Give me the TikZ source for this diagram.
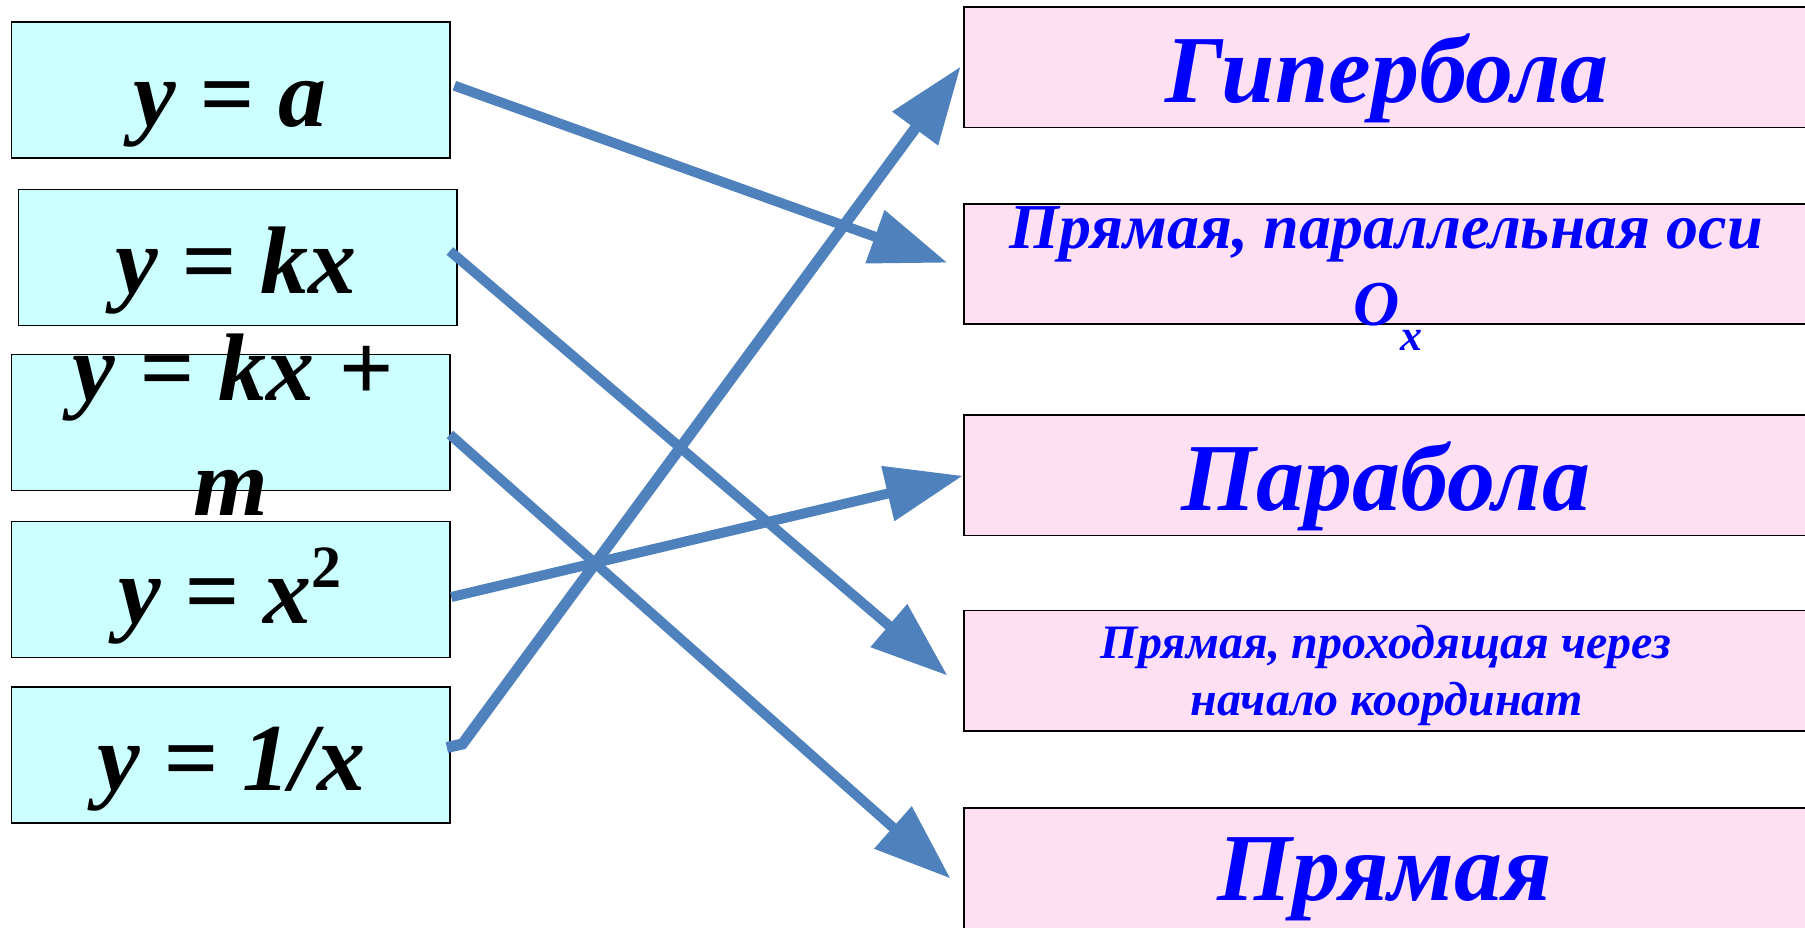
\documentclass[tikz,border=0pt]{standalone}
\usepackage{fontspec}
\setmainfont{Liberation Serif}
\usetikzlibrary{arrows.meta,calc}
\definecolor{lboxc}{RGB}{204,255,255}
\definecolor{rboxc}{RGB}{255,224,243}
\definecolor{arrc}{RGB}{79,129,189}
\definecolor{rtextc}{RGB}{0,0,255}
\begin{document}
\begin{tikzpicture}[x=1pt,y=-1pt,
  lbox/.style={draw=black,line width=1.8pt,fill=lboxc,minimum width=438.5pt,minimum height=136pt,inner sep=0pt},
  rbox/.style={draw=black,line width=1.8pt,fill=rboxc,minimum width=842.4pt,minimum height=120.5pt,inner sep=0pt},
  ltxt/.style={anchor=base,inner sep=0pt,font=\fontsize{96}{96}\selectfont\bfseries\itshape},
  rbig/.style={anchor=base,inner sep=0pt,text=rtextc,font=\fontsize{96}{96}\selectfont\bfseries\itshape},
  rmid/.style={anchor=base,inner sep=0pt,text=rtextc,font=\fontsize{64}{64}\selectfont\bfseries\itshape},
  rsmall/.style={anchor=base,inner sep=0pt,text=rtextc,font=\fontsize{48}{48}\selectfont\bfseries\itshape},
  conn/.style={draw=arrc,line width=10pt,-{Triangle[length=77pt,width=54pt]}}]
\useasboundingbox (0,0) rectangle (1805,927);
\fill[white] (0,0) rectangle (1805,927);
% left boxes
\node[lbox] (L1) at (230.75,90) {};
\node[lbox] (L2) at (237.7,257.5) {};
\node[lbox] (L3) at (230.75,422.5) {};
\node[lbox] (L4) at (230.75,589.4) {};
\node[lbox] (L5) at (230.75,755.2) {};
% right boxes
\node[rbox] (R1) at (1384.8,67.3) {};
\node[rbox] (R2) at (1384.8,264) {};
\node[rbox] (R3) at (1384.8,475.3) {};
\node[rbox] (R4) at (1384.8,670.8) {};
\node[rbox] (R5) at (1384.8,868.5) {};
% left texts
\node[ltxt] (t1) at (230,126) {y = a};
\node[ltxt] (t2) at (236,293) {y = kx};
\node[ltxt] (t3a) at (233,400) {y = kx +};
\node[ltxt] (t3b) at (231,515) {m};
\node[ltxt] (t4) at (230,623) {y = x\raisebox{36pt}{\fontsize{60}{60}\selectfont\upshape 2}};
\node[ltxt] (t5) at (231,790.7) {y = 1/x};
% right texts
\node[rbig] (s1) at (1387,102) {Гипербола};
\node[rmid] (s2a) at (1386,248) {Прямая, параллельная оси};
\node[rmid] (s2b) at (1388,325) {O\raisebox{-25pt}{\fontsize{44}{44}\selectfont x}};
\node[rbig] (s3) at (1386,510) {Парабола};
\node[rsmall] (s4a) at (1386,658.3) {Прямая, проходящая через};
\node[rsmall] (s4b) at (1387,715) {начало координат};
\node[rbig] (s5) at (1385,900) {Прямая};
% connectors
\draw[conn] ($(L1.east)+(3.5,-4.3)$) -- ($(R2.west)+(-15.3,-1.3)$);
\draw[conn] ($(L2.east)+(-8,-6.5)$) -- ($(R4.west)+(-15.3,4.7)$);
\draw[conn] ($(L3.east)+(-1,12)$) -- ($(R5.west)+(-12.2,10)$);
\draw[conn] ($(L4.east)+(0.4,7.6)$) -- ($(R3.west)+(0,0.5)$);
\draw[conn,line width=11pt] ($(L5.east)+(-4,-7.7)$) -- ($(L5.east)+(11.5,-11.2)$) -- ($(R1.west)+(-2,-0.8)$);
\end{tikzpicture}
\end{document}
